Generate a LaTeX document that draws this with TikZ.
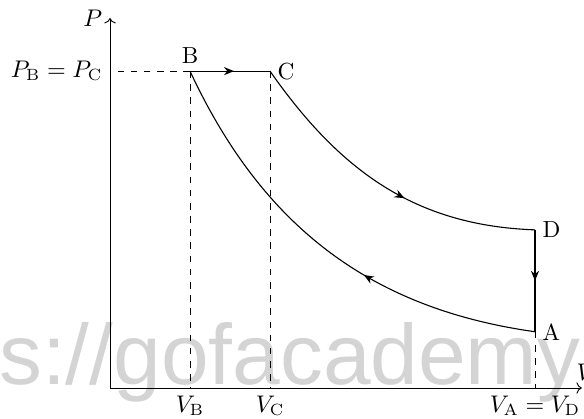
\documentclass[tikz,border=0pt]{standalone}
\usepackage{amsmath}
\usepackage{fontspec}
\newfontfamily\markfont{Liberation Sans}
\usetikzlibrary{arrows.meta, decorations.markings}
\definecolor{wmgray}{gray}{0.83}
\tikzset{
  axisline/.style={->, line width=0.4pt},
  guide/.style={dashed, line width=0.4pt},
  cyclepath/.style={
    line width=0.5pt, postaction={decorate},
    decoration={markings, mark=at position #1 with {\arrow{Stealth[length=1.6mm, width=1.3mm]}}}
  },
  cyclepath/.default=0.5,
  ptlab/.style={inner sep=3.3pt}
}

\begin{document}
\begin{tikzpicture}[font=\fontsize{10.6}{13}\selectfont]
  \useasboundingbox (-1.76,-0.496) rectangle (7.584,6.208);
  % watermark behind everything
  \node[font=\markfont\fontsize{39}{39}\selectfont, text=wmgray, anchor=base west, inner sep=0pt] (wm) at (-1.78,0.06) {s://gofacademy};
  \coordinate (O) at (0,0);
  \coordinate (B) at (1.28,5.07);
  \coordinate (C) at (2.56,5.07);
  \coordinate (D) at (6.8,2.53);
  \coordinate (A) at (6.8,0.9);
  \coordinate (Vend) at (7.55,0);
  \coordinate (Pend) at (0,5.92);
  \draw[axisline] (O) -- (Vend) node[above, xshift=2pt] (vlab) {$V$};
  \draw[axisline] (O) -- (Pend) node[left] (plab) {$P$};
  \draw[guide] (B) -- (O |- B) node[left] (pbc) {$P_{\mathrm{B}} = P_{\mathrm{C}}$};
  \draw[guide] (B) -- (B |- O) node[below] (vb) {$V_{\mathrm{B}}$};
  \draw[guide] (C) -- (C |- O) node[below] (vc) {$V_{\mathrm{C}}$};
  \draw[guide] (A) -- (A |- O) node[below] (vad) {$V_{\mathrm{A}} = V_{\mathrm{D}}$};
  \draw[cyclepath=0.55] (B) -- (C);
  \draw[cyclepath=0.58] (C) to[out=-55, in=178] (D);
  \draw[cyclepath=0.5] (D) -- (A);
  \draw[cyclepath=0.4] (A) to[out=172, in=-65] (B);
  \node[ptlab, above] (lB) at (B) {B};
  \node[ptlab, right] (lC) at (C) {C};
  \node[ptlab, right] (lD) at (D) {D};
  \node[ptlab, right] (lA) at (A) {A};
\end{tikzpicture}
\end{document}
